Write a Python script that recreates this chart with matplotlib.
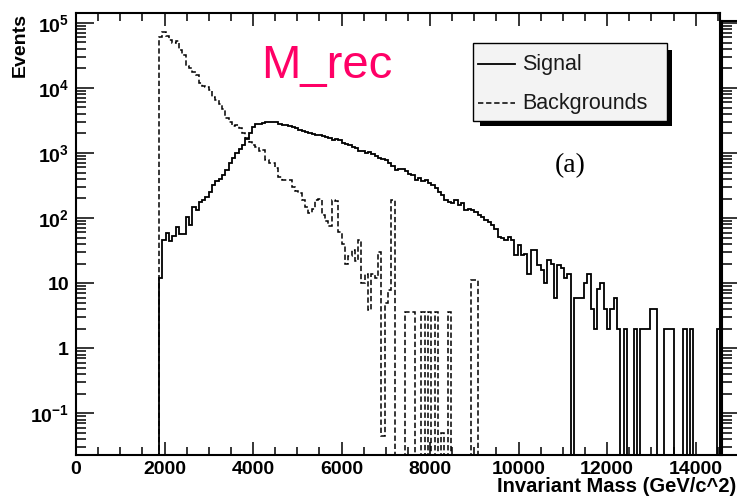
import numpy as np
import matplotlib.pyplot as plt
import matplotlib
from matplotlib.patches import Rectangle
from matplotlib.lines import Line2D
from matplotlib.ticker import FixedLocator, FixedFormatter, LogLocator, NullFormatter, MultipleLocator

matplotlib.rcParams['font.family'] = ['Liberation Sans', 'DejaVu Sans']
matplotlib.rcParams['mathtext.fontset'] = 'custom'
matplotlib.rcParams['mathtext.rm'] = 'Liberation Sans:bold'
matplotlib.rcParams['mathtext.it'] = 'Liberation Sans:bold'
matplotlib.rcParams['mathtext.bf'] = 'Liberation Sans:bold'

# histogram binning (GeV/c^2)
BIN_W = 75
FIRST_EDGE = 1875

signal = [12, 46, 58, 44, 53, 74, 56, 57, 103, 78,
          147, 131, 178, 190, 208, 250, 320, 370, 400, 460,
          550, 690, 830, 980, 1130, 1320, 1620, 2000, 2500, 2760,
          2800, 2900, 2950, 2950, 2950, 2950, 2750, 2700, 2650, 2600,
          2500, 2400, 2250, 2200, 2100, 2050, 1980, 1900, 1880, 1800,
          1750, 1700, 1580, 1650, 1600, 1420, 1350, 1300, 1250, 1200,
          1080, 1060, 1000, 1020, 950, 900, 850, 820, 790, 690,
          640, 550, 560, 560, 520, 480, 460, 390, 410, 370,
          380, 340, 320, 290, 250, 222, 190, 178, 168, 190,
          158, 168, 135, 140, 132, 125, 112, 105, 93, 88,
          78, 69, 51, 49, 46, 51, 46, 27, 38, 27,
          28, 14, 32, 32, 19, 16, 10, 23, 20, 6,
          19, 17, 12, 14, 0, 6, 6, 6, 10, 14,
          4, 2, 8, 10, 4, 2, 4, 6, 2, 0,
          2, 0, 0, 2, 0, 2, 2, 2, 4, 4,
          0, 0, 2, 2, 2, 0, 0, 0, 2, 0,
          2, 0, 0, 0, 0, 0, 0, 0, 2]

backgrounds = [61000, 73000, 63000, 54000, 48000, 52000, 38000, 32000, 22000, 20000,
               17600, 15800, 11800, 10800, 10400, 9300, 7100, 6500, 5600, 4700,
               3400, 2950, 2600, 2700, 2400, 2000, 1670, 1480, 1320, 1250,
               1070, 1100, 780, 690, 690, 580, 430, 390, 390, 380,
               300, 260, 240, 190, 150, 120, 140, 190, 195, 110,
               90, 75, 190, 185, 60, 40, 20, 26, 32, 22,
               46, 10, 14, 3.8, 14, 12, 30, 0.045, 5, 7.8,
               186, 0, 0, 0, 3.6, 3.6, 3.6, 0, 0, 3.6,
               0, 3.6, 0, 3.6, 0, 0.05, 0, 3.6, 0, 0,
               0, 0, 0, 0, 11, 11]

x_ticks = [0, 2000, 4000, 6000, 8000, 10000, 12000, 14000]
y_ticks = [1e-1, 1, 10, 1e2, 1e3, 1e4, 1e5]
y_labels = ['$10^{-1}$', '1', '10', '$10^{2}$', '$10^{3}$', '$10^{4}$', '$10^{5}$']

X_MAX = 14550
Y_MIN, Y_MAX = 0.0229, 1.41e5
FLOOR = 1e-4

W, H = 737, 498
fig = plt.figure(figsize=(W / 100, H / 100), dpi=100)


def px_box(l, t, r, b):
    return [l / W, 1 - b / H, (r - l) / W, (b - t) / H]


def fx(x):
    return x / W


def fy(y):
    return 1 - y / H


ax = fig.add_axes(px_box(76, 13, 720, 455))

sig = np.array(signal, dtype=float)
bkg = np.array(backgrounds, dtype=float)
sig_edges = FIRST_EDGE + BIN_W * np.arange(len(sig) + 1)
bkg_edges = FIRST_EDGE + BIN_W * np.arange(len(bkg) + 1)

ax.stairs(np.where(bkg > 0, bkg, FLOOR), bkg_edges, baseline=FLOOR,
          color='black', lw=1.1, linestyle=(0, (3.5, 1.8)))
ax.stairs(np.where(sig > 0, sig, FLOOR), sig_edges, baseline=FLOOR,
          color='black', lw=1.3)

ax.set_yscale('log')
ax.set_xlim(0, X_MAX)
ax.set_ylim(Y_MIN, Y_MAX)

ax.xaxis.set_major_locator(FixedLocator(x_ticks))
ax.xaxis.set_minor_locator(MultipleLocator(500))
ax.yaxis.set_major_locator(FixedLocator(y_ticks))
ax.yaxis.set_major_formatter(FixedFormatter(y_labels))
ax.yaxis.set_minor_locator(LogLocator(base=10, subs=np.arange(2, 10), numticks=20))
ax.yaxis.set_minor_formatter(NullFormatter())

ax.tick_params(axis='x', which='major', direction='in', length=9.5, width=1.1,
               top=True, labelsize=14, pad=4)
ax.tick_params(axis='x', which='minor', direction='in', length=5.5, width=1.1, top=True)
ax.tick_params(axis='y', which='major', direction='in', length=13, width=1.1,
               right=False, labelsize=14, pad=5)
ax.tick_params(axis='y', which='minor', direction='in', length=7, width=1.1, right=False)
for lbl in ax.get_xticklabels() + ax.get_yticklabels():
    lbl.set_fontweight('bold')
for s in ax.spines.values():
    s.set_linewidth(1.5)

# neighbouring panel's axis on the right edge
ax2 = fig.add_axes(px_box(722, 21, 1300, 455))
ax2.set_yscale('log')
ax2.set_ylim(Y_MIN, 1.07e5)
ax2.set_xticks([])
ax2.yaxis.set_major_locator(FixedLocator(y_ticks))
ax2.yaxis.set_minor_locator(LogLocator(base=10, subs=np.arange(2, 10), numticks=20))
ax2.yaxis.set_major_formatter(NullFormatter())
ax2.yaxis.set_minor_formatter(NullFormatter())
ax2.tick_params(axis='y', which='major', direction='in', length=13, width=1.1)
ax2.tick_params(axis='y', which='minor', direction='in', length=7, width=1.1)
for s in ax2.spines.values():
    s.set_linewidth(1.5)

fig.text(fx(20), fy(13), 'Events', rotation=90, ha='center', va='top',
         fontsize=14, fontweight='bold')
fig.text(fx(736), fy(486), 'Invariant Mass (GeV/c^2)', ha='right', va='center',
         fontsize=14.5, fontweight='bold')

fig.text(fx(261), fy(78), 'M_rec', color='#ff0066', fontsize=34,
         ha='left', va='baseline')

# legend box with drop shadow
fig.patches.append(Rectangle((fx(480), fy(126)), (672 - 480) / W, (126 - 50) / H,
                             transform=fig.transFigure, facecolor='black',
                             edgecolor='none', zorder=5))
fig.patches.append(Rectangle((fx(473), fy(121)), (667 - 473) / W, (121 - 43) / H,
                             transform=fig.transFigure, facecolor='#f3f3f3',
                             edgecolor='black', lw=1.0, zorder=6))
fig.lines.append(Line2D([fx(478), fx(515)], [fy(64), fy(64)], transform=fig.transFigure,
                        color='black', lw=1.3, zorder=7))
fig.lines.append(Line2D([fx(478), fx(515)], [fy(103), fy(103)], transform=fig.transFigure,
                        color='black', lw=1.1, linestyle=(0, (3.5, 1.8)), zorder=7))
fig.text(fx(522), fy(64), 'Signal', fontsize=15.5, ha='left', va='center',
         color='#1a1a1a', zorder=8)
fig.text(fx(522), fy(103), 'Backgrounds', fontsize=15.5, ha='left', va='center',
         color='#1a1a1a', zorder=8)

fig.text(fx(570), fy(166), '(a)', fontsize=20, ha='center', va='center',
         family=['Liberation Serif', 'DejaVu Serif'])

fig.savefig('out.png', dpi=100)
